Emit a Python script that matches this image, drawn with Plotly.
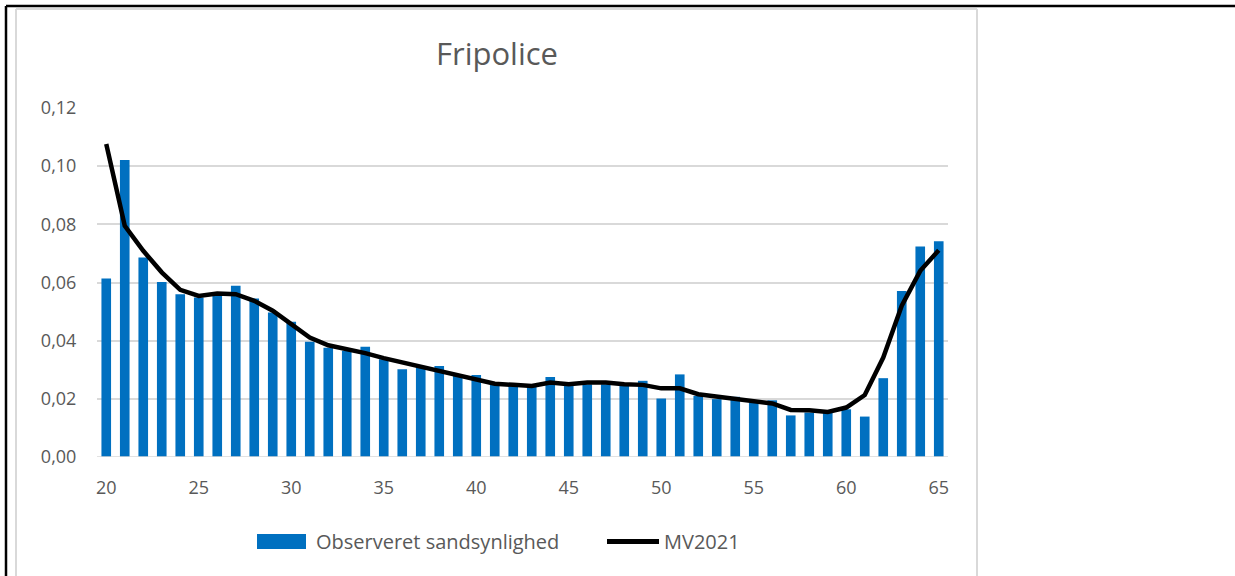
import plotly.graph_objects as go

ages = list(range(20, 66))
observed = [0.0614, 0.1021, 0.0686, 0.0602, 0.0560, 0.0548, 0.0556, 0.0589, 0.0545, 0.0497,
            0.0465, 0.0396, 0.0376, 0.0365, 0.0379, 0.0336, 0.0302, 0.0313, 0.0313, 0.0279,
            0.0282, 0.0248, 0.0244, 0.0241, 0.0275, 0.0244, 0.0250, 0.0250, 0.0248, 0.0262,
            0.0201, 0.0284, 0.0210, 0.0199, 0.0207, 0.0187, 0.0195, 0.0143, 0.0153, 0.0153,
            0.0164, 0.0139, 0.0271, 0.0571, 0.0724, 0.0742]
mv2021 = [0.1076, 0.0795, 0.0709, 0.0635, 0.0575, 0.0554, 0.0562, 0.0560, 0.0537, 0.0503,
          0.0457, 0.0411, 0.0384, 0.0371, 0.0357, 0.0340, 0.0325, 0.0313, 0.0298, 0.0282,
          0.0267, 0.0252, 0.0248, 0.0244, 0.0256, 0.0250, 0.0256, 0.0256, 0.0250, 0.0248,
          0.0236, 0.0236, 0.0216, 0.0208, 0.0202, 0.0193, 0.0184, 0.0162, 0.0161, 0.0155,
          0.0170, 0.0213, 0.0342, 0.0520, 0.0640, 0.0711]
x_ticks = [20, 25, 30, 35, 40, 45, 50, 55, 60, 65]
y_ticks = [0.0, 0.02, 0.04, 0.06, 0.08, 0.10, 0.12]
series_names = ["Observeret sandsynlighed", "MV2021"]

W, H = 1235, 576
L, R, T, B = 97, 287, 108, 119
pw, ph = W - L - R, H - T - B
TXT = "#595959"
FONT = "Open Sans, Noto Sans, sans-serif"

def px(x):
    return (x - L) / pw

def py(y):
    return 1 - (y - T) / ph

fig = go.Figure()
fig.add_trace(go.Bar(x=ages, y=observed, name=series_names[0],
                     marker=dict(color="#0070C0", line=dict(width=0)), width=0.52))
fig.add_trace(go.Scatter(x=ages, y=mv2021, name=series_names[1], mode="lines",
                         line=dict(color="black", width=4.5)))

def pline(x0, y0, x1, y1, color, width):
    return dict(type="line", xref="paper", yref="paper", x0=px(x0), x1=px(x1),
                y0=py(y0), y1=py(y1), line=dict(color=color, width=width))

shapes = [
    pline(6, 6, 1235, 6, "black", 2.5),
    pline(6, 6, 6, 576, "black", 2.5),
    pline(16, 9, 977, 9, "#D9D9D9", 2),
    pline(16, 9, 16, 576, "#D9D9D9", 2),
    pline(977, 9, 977, 576, "#D9D9D9", 2),
    # legend swatches
    dict(type="rect", xref="paper", yref="paper", x0=px(257), x1=px(306), y0=py(534), y1=py(549),
         fillcolor="#0070C0", line=dict(width=0)),
    pline(607, 541.5, 659, 541.5, "black", 5),
]

annotations = [
    dict(text=series_names[0], xref="paper", yref="paper", x=px(314), y=py(541.5),
         xanchor="left", yanchor="middle", showarrow=False, font=dict(size=20, color=TXT, family=FONT)),
    dict(text=series_names[1], xref="paper", yref="paper", x=px(662), y=py(541.5),
         xanchor="left", yanchor="middle", showarrow=False, font=dict(size=20, color=TXT, family=FONT)),
]

fig.update_layout(
    width=W, height=H,
    margin=dict(l=L, r=R, t=T, b=B, pad=0),
    paper_bgcolor="white", plot_bgcolor="white",
    separators=",.",
    font=dict(family=FONT, color=TXT, size=18),
    title=dict(text="Fripolice", xref="container", x=497 / W, xanchor="center",
               yref="container", y=1 - 54 / H, yanchor="middle",
               font=dict(size=31, color=TXT)),
    bargap=0.45,
    showlegend=False,
    xaxis=dict(range=[19.5, 65.5], tickvals=x_ticks, showgrid=False, zeroline=False,
               showline=False, ticks="outside", ticklen=14, tickcolor="rgba(0,0,0,0)",
               tickfont=dict(size=18, color=TXT)),
    yaxis=dict(range=[0, 0.12], tickvals=y_ticks, tickformat=".2f", showgrid=True,
               gridcolor="#D9D9D9", gridwidth=1.5, zeroline=False, showline=False,
               ticks="outside", ticklen=16, tickcolor="rgba(0,0,0,0)",
               tickfont=dict(size=18, color=TXT)),
    shapes=shapes,
    annotations=annotations,
)
fig.add_shape(type="line", xref="paper", yref="y", x0=0, x1=1, y0=0, y1=0,
              line=dict(color="#D9D9D9", width=1.5))

fig.write_html("out.html", config={"displayModeBar": False},
               post_script="document.body.style.margin='0px';document.body.style.overflow='hidden';")
